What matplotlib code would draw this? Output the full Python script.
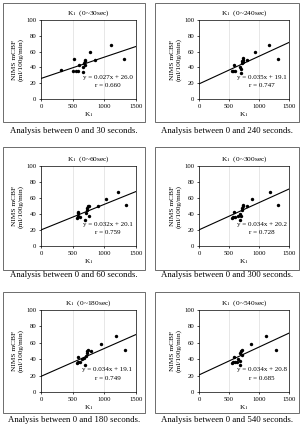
import matplotlib.pyplot as plt
import numpy as np
from matplotlib.patches import Rectangle

plt.rcParams['font.family'] = ['Liberation Serif', 'DejaVu Serif']
plt.rcParams['mathtext.fontset'] = 'stix'

# panel order: (0-30), (0-240), (0-60), (0-300), (0-180), (0-540)
titles = ['0~30sec', '0~240sec', '0~60sec', '0~300sec', '0~180sec', '0~540sec']
captions = ['Analysis between 0 and 30 seconds.', 'Analysis between 0 and 240 seconds.',
            'Analysis between 0 and 60 seconds.', 'Analysis between 0 and 300 seconds.',
            'Analysis between 0 and 180 seconds.', 'Analysis between 0 and 540 seconds.']
slopes = [0.027, 0.035, 0.032, 0.034, 0.034, 0.034]
intercepts = [26.0, 19.1, 20.1, 20.2, 19.1, 20.8]
r_vals = ['0.660', '0.747', '0.759', '0.728', '0.749', '0.685']

k1_30 = [320, 500, 520, 550, 580, 600, 660, 670, 680, 690, 690, 700, 770, 850, 1110, 1310]
cbf_30 = [37, 35, 51, 35, 36, 43, 34, 40, 45, 48, 50, 43, 59, 50, 68, 51]
k1_240 = [550, 570, 580, 600, 680, 700, 700, 720, 720, 730, 730, 740, 800, 930, 1170, 1310]
cbf_240 = [35, 36, 43, 36, 40, 33, 38, 45, 48, 50, 52, 47, 50, 59, 68, 51]
k1_60 = [570, 580, 580, 590, 610, 700, 710, 720, 730, 740, 750, 760, 900, 1030, 1210, 1340]
cbf_60 = [35, 37, 41, 43, 36, 33, 41, 45, 47, 50, 50, 37, 50, 59, 68, 51]
k1_300 = [550, 570, 580, 600, 650, 680, 690, 700, 710, 720, 730, 740, 800, 880, 1180, 1310]
cbf_300 = [35, 36, 43, 36, 37, 40, 33, 38, 45, 48, 50, 51, 50, 59, 68, 51]
k1_180 = [570, 580, 590, 610, 650, 680, 700, 710, 720, 730, 740, 790, 940, 1190, 1320]
cbf_180 = [35, 37, 43, 37, 40, 42, 33, 44, 48, 50, 51, 50, 59, 68, 51]
k1_540 = [550, 570, 580, 600, 640, 650, 680, 690, 690, 700, 710, 720, 860, 1110, 1290]
cbf_540 = [35, 36, 43, 36, 37, 40, 33, 38, 48, 50, 51, 45, 59, 68, 51]

xs = [k1_30, k1_240, k1_60, k1_300, k1_180, k1_540]
ys = [cbf_30, cbf_240, cbf_60, cbf_300, cbf_180, cbf_540]

W, H = 307, 430
fig = plt.figure(figsize=(W / 100, H / 100), dpi=100)

col_plot = [(41, 136), (199, 289)]
col_box = [(3, 145), (155, 299)]
row_plot = [(20, 99), (166, 246), (310, 392)]
row_box = [(3, 122), (147, 270), (292, 413)]
row_cap = [131, 275, 420]

for i in range(6):
    r, c = divmod(i, 2)
    x0, x1 = col_plot[c]
    y0, y1 = row_plot[r]
    bx0, bx1 = col_box[c]
    by0, by1 = row_box[r]

    fig.patches.append(Rectangle((bx0 / W, 1 - by1 / H), (bx1 - bx0) / W, (by1 - by0) / H,
                                 transform=fig.transFigure, fill=False, lw=0.6,
                                 edgecolor='#555555'))
    fig.text((bx0 + bx1) / 2 / W, 1 - row_cap[r] / H, captions[i], ha='center',
             va='center', fontsize=6.3)

    ax = fig.add_axes([x0 / W, 1 - y1 / H, (x1 - x0) / W, (y1 - y0) / H])
    ax.scatter(xs[i], ys[i], s=6, color='black', zorder=3, linewidths=0)
    xx = np.array([0, 1500])
    ax.plot(xx, slopes[i] * xx + intercepts[i], color='black', lw=0.8)
    ax.set_xlim(0, 1500)
    ax.set_ylim(0, 100)
    ax.set_xticks([0, 500, 1000, 1500])
    ax.set_yticks(range(0, 101, 20))
    ax.tick_params(labelsize=4.8, length=1.5, width=0.5, pad=2)
    ax.grid(True, axis='x', color='#dddddd', lw=0.5)
    for s in ax.spines.values():
        s.set_linewidth(0.5)
    ax.set_title('K$_1$  (' + titles[i] + ')', fontsize=5.3, pad=4)
    ax.set_xlabel('K$_1$', fontsize=5.3, labelpad=1)
    ax.set_ylabel('NIMS mCBF\n(ml/100g/min)', fontsize=5.3, labelpad=2)
    ax.text(1050, 27, 'y = %.3fx + %.1f' % (slopes[i], intercepts[i]),
            ha='center', va='center', fontsize=5)
    ax.text(1050, 17, 'r = ' + r_vals[i], ha='center', va='center', fontsize=5)

plt.savefig('out.png', dpi=100)
